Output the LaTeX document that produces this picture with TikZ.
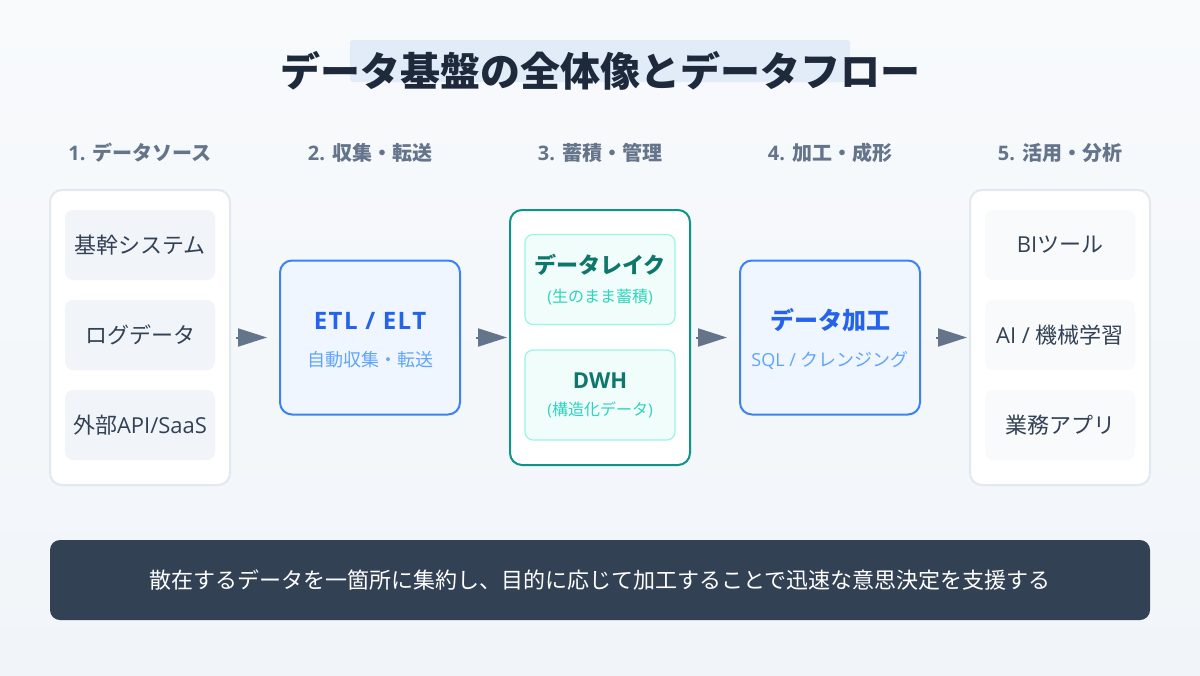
\documentclass[tikz,border=0pt]{standalone}
\usepackage{fontspec}
\setmainfont{Noto Sans CJK JP}
\newfontfamily\lat{Open Sans}
\newfontfamily\latwide{Open Sans}[LetterSpace=6]
\usetikzlibrary{arrows.meta}
\definecolor{bgA}{HTML}{F8FAFC}
\definecolor{bgB}{HTML}{F1F5F9}
\definecolor{hlc}{HTML}{E1ECF8}
\definecolor{titlec}{HTML}{1E293B}
\definecolor{hdrc}{HTML}{64748B}
\definecolor{panelline}{HTML}{E2E8F0}
\definecolor{itemfill}{HTML}{F1F5F9}
\definecolor{itemfillb}{HTML}{F8FAFC}
\definecolor{itemtext}{HTML}{334155}
\definecolor{bluefill}{HTML}{EFF6FF}
\definecolor{blueline}{HTML}{3B82F6}
\definecolor{bluetext}{HTML}{2563EB}
\definecolor{bluesub}{HTML}{60A5FA}
\definecolor{tealline}{HTML}{0D9488}
\definecolor{tealfill}{HTML}{F0FDFA}
\definecolor{tealinner}{HTML}{99F6E4}
\definecolor{tealtext}{HTML}{0F766E}
\definecolor{tealsub}{HTML}{2DD4BF}
\definecolor{arrowc}{HTML}{64748B}
\definecolor{bannerc}{HTML}{334155}
\tikzset{
  hdr/.style={font=\bfseries\fontsize{15}{18}\selectfont, text=hdrc, inner sep=0pt},
  panel/.style={draw=panelline, line width=1.5pt, fill=white, rounded corners=9pt,
    minimum width=135pt, minimum height=221.25pt, inner sep=0pt},
  item/.style={fill=itemfill, rounded corners=6pt, minimum width=112.5pt,
    minimum height=52.5pt, inner sep=0pt, text=itemtext,
    font=\fontsize{16.5}{20}\selectfont},
  itemb/.style={item, fill=itemfillb},
  bluebox/.style={draw=blueline, line width=1.5pt, fill=bluefill, rounded corners=9pt,
    minimum width=135pt, minimum height=115.5pt, inner sep=0pt},
  bluetitle/.style={font=\bfseries\fontsize{18}{22}\selectfont, text=bluetext, inner sep=0pt},
  bluesubt/.style={font=\fontsize{13.5}{16}\selectfont, text=bluesub, inner sep=0pt},
  tealbox/.style={draw=tealline, line width=1.5pt, fill=white, rounded corners=9pt,
    minimum width=135pt, minimum height=191.25pt, inner sep=0pt},
  tealin/.style={draw=tealinner, line width=0.9pt, fill=tealfill, rounded corners=6pt,
    minimum width=112.5pt, minimum height=67.5pt, inner sep=0pt},
  tealtitle/.style={font=\bfseries\fontsize{16.5}{20}\selectfont, text=tealtext, inner sep=0pt},
  tealsubt/.style={font=\fontsize{12}{15}\selectfont, text=tealsub, inner sep=0pt},
  flowarrow/.style={draw=arrowc, line width=1.5pt, -{Triangle[length=21.75pt,width=13.5pt]}},
}
\begin{document}
\begin{tikzpicture}[x=0.75pt,y=-0.75pt]
\useasboundingbox (0,0) rectangle (1200,675);
\shade[top color=bgA, bottom color=bgB] (0,0) rectangle (1200,675);

% title
\node[fill=hlc, rounded corners=2pt, minimum width=375pt, minimum height=31.5pt, inner sep=0pt] (titlehl) at (600,61) {};
\node[font=\bfseries\fontsize{30}{36}\selectfont, text=titlec, inner sep=0pt] (title) at (600,71) {データ基盤の全体像とデータフロー};

% headers
\node[hdr] (h1) at (140,153) {{\lat 1. }データソース};
\node[hdr] (h2) at (370,153) {{\lat 2. }収集・転送};
\node[hdr] (h3) at (600,153) {{\lat 3. }蓄積・管理};
\node[hdr] (h4) at (830,153) {{\lat 4. }加工・成形};
\node[hdr] (h5) at (1060,153) {{\lat 5. }活用・分析};

% column 1
\node[panel] (src) at (140,337.5) {};
\node[item] (s1) at (140,245) {基幹システム};
\node[item] (s2) at (140,335) {ログデータ};
\node[item] (s3) at (140,425) {外部{\lat API/SaaS}};

% column 2
\node[bluebox] (etl) at (370,337.5) {};
\node[bluetitle] (etlt) at (370,321) {{\latwide ETL / ELT}};
\node[bluesubt] (etls) at (370,360) {自動収集・転送};

% column 3
\node[tealbox] (store) at (600,337.5) {};
\node[tealin] (lake) at (600,279.5) {};
\node[tealtitle] (laket) at (600,265) {データレイク};
\node[tealsubt] (lakes) at (600,297) {{\lat (}生のまま蓄積{\lat )}};
\node[tealin] (dwh) at (600,395) {};
\node[tealtitle] (dwht) at (600,381) {{\lat DWH}};
\node[tealsubt] (dwhs) at (600,410) {{\lat (}構造化データ{\lat )}};

% column 4
\node[bluebox] (proc) at (830,337.5) {};
\node[bluetitle] (proct) at (830,320) {データ加工};
\node[bluesubt] (procs) at (830,360) {{\lat SQL / }クレンジング};

% column 5
\node[panel] (use) at (1060,337.5) {};
\node[itemb] (u1) at (1060,245) {{\lat BI}ツール};
\node[itemb] (u2) at (1060,335) {{\lat AI / }機械学習};
\node[itemb] (u3) at (1060,425) {業務アプリ};

% arrows
\draw[flowarrow, shorten <=3.75pt, shorten >=9pt] (src.east) -- (etl.west);
\draw[flowarrow, shorten <=11.25pt, shorten >=1.5pt] (etl.east) -- (store.west);
\draw[flowarrow, shorten <=3.75pt, shorten >=9pt] (store.east) -- (proc.west);
\draw[flowarrow, shorten <=11.25pt, shorten >=1.5pt] (proc.east) -- (use.west);

% banner
\node[fill=bannerc, rounded corners=7.5pt, minimum width=825pt, minimum height=60pt, inner sep=0pt] (banner) at (600,580) {};
\node[text=white, font=\fontsize{16.5}{20}\selectfont, inner sep=0pt] (bannert) at (600,580) {散在するデータを一箇所に集約し、目的に応じて加工することで迅速な意思決定を支援する};
\end{tikzpicture}
\end{document}
